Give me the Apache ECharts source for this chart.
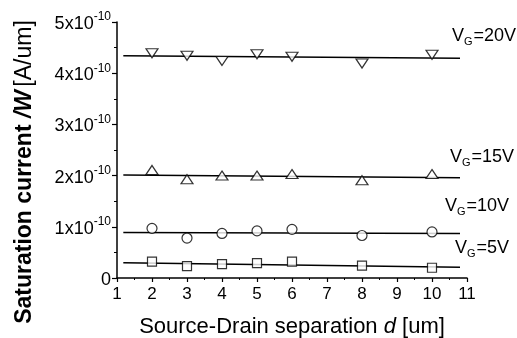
<!DOCTYPE html>
<html>
<head>
<meta charset="utf-8">
<script src="https://cdn.jsdelivr.net/npm/echarts@6/dist/echarts.min.js"></script>
<style>
  html, body { margin: 0; padding: 0; background: #fff; }
  #main { width: 517px; height: 338px; }
</style>
</head>
<body>
<div id="main"></div>
<script>
// values in units of 1e-10 A/um
let separations = [2, 3, 4, 5, 6, 8, 10];
let vg20 = [4.39, 4.34, 4.24, 4.37, 4.32, 4.19, 4.36];
let vg15 = [2.11, 1.93, 2.00, 2.00, 2.03, 1.91, 2.03];
let vg10 = [0.97, 0.78, 0.87, 0.92, 0.95, 0.83, 0.90];
let vg5 = [0.32, 0.23, 0.27, 0.29, 0.32, 0.24, 0.20];

// linear fits: [x, y] at both ends
let fitX = [1.18, 10.8];
let fit20 = [4.34, 4.29];
let fit15 = [2.01, 1.96];
let fit10 = [0.89, 0.87];
let fit5 = [0.30, 0.21];

let vgLabels = ['20V', '15V', '10V', '5V'];

let FONT = 'Arial, "Liberation Sans", sans-serif';

function pts(xs, ys) {
    return xs.map(function (x, i) { return [x, ys[i]]; });
}

function markerSeries(name, data, symbol, size, rotate) {
    return {
        name: name,
        type: 'scatter',
        data: pts(separations, data),
        symbol: symbol,
        symbolSize: size,
        symbolRotate: rotate || 0,
        itemStyle: { color: '#fff', borderColor: '#000', borderWidth: 1.2 },
        z: 3
    };
}

function fitSeries(ys) {
    return {
        type: 'line',
        data: pts(fitX, ys),
        showSymbol: false,
        lineStyle: { color: '#000', width: 1.5 },
        z: 2
    };
}

function vgText(label, left, top) {
    return {
        type: 'text',
        left: left,
        top: top,
        style: {
            text: '{v|V}{g|G}{v|=' + label + '}',
            rich: {
                v: { fontSize: 18, fontFamily: FONT, fill: '#000', lineHeight: 22, verticalAlign: 'middle' },
                g: { fontSize: 11, fontFamily: FONT, fill: '#000', lineHeight: 22, verticalAlign: 'bottom', padding: [9, 1, 0, 0] }
            }
        }
    };
}

let myChart = echarts.init(document.getElementById('main'));

let option = {
    backgroundColor: '#fff',
    animation: false,
    grid: { left: 117, right: 50, top: 22, bottom: 60, containLabel: false, outerBoundsMode: 'none' },
    xAxis: {
        type: 'value',
        min: 1,
        max: 11,
        interval: 1,
        name: 'Source-Drain separation {i|d} [um]',
        nameLocation: 'middle',
        nameGap: 38,
        nameTextStyle: {
            fontSize: 22, fontFamily: FONT, color: '#000',
            rich: { i: { fontSize: 22, fontFamily: FONT, fontStyle: 'italic', color: '#000' } }
        },
        axisLine: { lineStyle: { color: '#000', width: 1.5 } },
        axisTick: { inside: false, length: 4, lineStyle: { color: '#000', width: 1.2 } },
        minorTick: { show: true, splitNumber: 2, length: 2, lineStyle: { color: '#000', width: 1 } },
        axisLabel: { fontSize: 17, fontFamily: FONT, color: '#000', margin: 8 },
        splitLine: { show: false }
    },
    yAxis: {
        type: 'value',
        min: 0,
        max: 5,
        interval: 1,
        axisLine: { show: true, lineStyle: { color: '#000', width: 1.5 } },
        axisTick: { inside: false, length: 5, lineStyle: { color: '#000', width: 1.2 } },
        minorTick: { show: true, splitNumber: 2, length: 3, lineStyle: { color: '#000', width: 1 } },
        axisLabel: {
            margin: 6,
            formatter: function (v) {
                if (v === 0) return '{a|0}';
                return '{a|' + v + 'x10}{s|-10}';
            },
            rich: {
                a: { fontSize: 18, fontFamily: FONT, color: '#000', lineHeight: 22, verticalAlign: 'bottom' },
                s: { fontSize: 12, fontFamily: FONT, color: '#000', lineHeight: 22, verticalAlign: 'top' }
            }
        },
        splitLine: { show: false }
    },
    series: [
        fitSeries(fit20),
        fitSeries(fit15),
        fitSeries(fit10),
        fitSeries(fit5),
        markerSeries('VG=20V', vg20, 'triangle', [12, 9], 180),
        markerSeries('VG=15V', vg15, 'triangle', [12, 9], 0),
        markerSeries('VG=10V', vg10, 'circle', 10, 0),
        markerSeries('VG=5V', vg5, 'rect', 9, 0)
    ],
    graphic: [
        {
            type: 'text',
            x: 25,
            y: 172,
            rotation: Math.PI / 2,
            style: {
                text: '{b|Saturation current }{bi|/W} {n|[A/um]}',
                align: 'center',
                verticalAlign: 'middle',
                rich: {
                    b: { fontSize: 23, fontWeight: 'bold', fontFamily: FONT, fill: '#000' },
                    bi: { fontSize: 23, fontWeight: 'bold', fontStyle: 'italic', fontFamily: FONT, fill: '#000' },
                    n: { fontSize: 23, fontFamily: FONT, fill: '#000' }
                }
            }
        },
        vgText(vgLabels[0], 452, 27),
        vgText(vgLabels[1], 450, 148),
        vgText(vgLabels[2], 445, 197),
        vgText(vgLabels[3], 455, 239)
    ]
};

myChart.setOption(option);
</script>
</body>
</html>
